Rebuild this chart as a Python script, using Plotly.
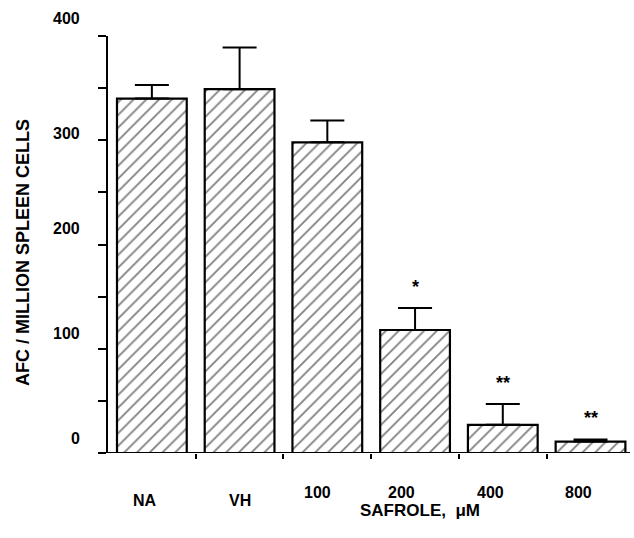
import plotly.graph_objects as go

categories = ["NA", "VH", "100", "200", "400", "800"]
afc_means = [340, 349, 298, 118, 27, 11]
afc_errors = [13, 40, 21, 21, 20, 2]
significance = ["", "", "", "*", "**", "**"]
y_tick_values = [0, 100, 200, 300, 400]
y_tick_labels = ["0", "100", "200", "300", "400"]

FONT = "Liberation Sans, Arial, Helvetica, sans-serif"
x_idx = list(range(len(categories)))

fig = go.Figure()
fig.add_trace(go.Bar(
    x=x_idx, y=afc_means, width=0.795,
    marker=dict(color="white", line=dict(color="black", width=2.2),
                pattern=dict(shape="/", size=9, solidity=0.2,
                             fgcolor="black", bgcolor="white")),
    error_y=dict(type="data", array=afc_errors,
                 arrayminus=[0] * len(afc_errors), symmetric=False,
                 color="black", thickness=2, width=17),
    showlegend=False,
))

ann = []
# y tick labels (offset upward as in the original scan)
label_shifts = [15, 15, 16, 7, 18]
for v, t, s in zip(y_tick_values, y_tick_labels, label_shifts):
    ann.append(dict(x=-26 / 522, xref="paper", y=v, yref="y", yshift=s,
                    text=t, showarrow=False, xanchor="right", yanchor="middle",
                    font=dict(family=FONT, size=16, color="black", weight="bold")))
# x category labels
x_label_y = [-0.113, -0.113, -0.094, -0.094, -0.094, -0.094]
x_label_shift = [-7, 0, -10, -14, -12, -12]
for i, c in enumerate(categories):
    ann.append(dict(x=i, xref="x", xshift=x_label_shift[i], y=x_label_y[i], yref="paper",
                    text=c, showarrow=False, xanchor="center", yanchor="middle",
                    font=dict(family=FONT, size=16, color="black", weight="bold")))
# significance stars
for i, s in enumerate(significance):
    if s:
        ann.append(dict(x=i, y=afc_means[i] + afc_errors[i], yshift=21,
                        text=s, showarrow=False, xanchor="center", yanchor="middle",
                        font=dict(family=FONT, size=18, color="black", weight="bold")))
# axis titles
ann.append(dict(x=0.598, y=-0.139, xref="paper", yref="paper",
                text="SAFROLE,  \u03bcM", showarrow=False, xanchor="center", yanchor="middle",
                font=dict(family=FONT, size=17, color="black", weight="bold")))
ann.append(dict(x=-0.163, y=0.482, xref="paper", yref="paper", textangle=-90,
                text="AFC / MILLION SPLEEN CELLS", showarrow=False,
                xanchor="center", yanchor="middle",
                font=dict(family=FONT, size=18, color="black", weight="bold")))

fig.update_layout(
    width=634, height=538,
    margin=dict(l=108, r=4, t=36, b=85),
    paper_bgcolor="white", plot_bgcolor="white",
    annotations=ann,
    xaxis=dict(range=[-0.5, 5.45], showgrid=False, zeroline=False,
               showline=False, tickmode="array",
               tickvals=[0.5, 1.5, 2.5, 3.5, 4.5], ticktext=[""] * 5,
               ticks="outside", ticklen=5, tickwidth=1.5, tickcolor="black"),
    yaxis=dict(range=[0, 400], showgrid=False, zeroline=False,
               showline=True, linecolor="black", linewidth=2,
               tickmode="array", tickvals=y_tick_values,
               ticktext=[""] * len(y_tick_values),
               ticks="outside", ticklen=8, tickwidth=1.5, tickcolor="black",
               minor=dict(tickmode="array", tickvals=[50, 150, 250, 350],
                          ticks="outside", ticklen=8, tickwidth=1.5,
                          tickcolor="black")),
    shapes=[dict(type="line", xref="paper", yref="y", x0=-10 / 522, x1=1.0,
                 y0=0, y1=0, line=dict(color="black", width=2))],
)

fig.write_html("out.html")
